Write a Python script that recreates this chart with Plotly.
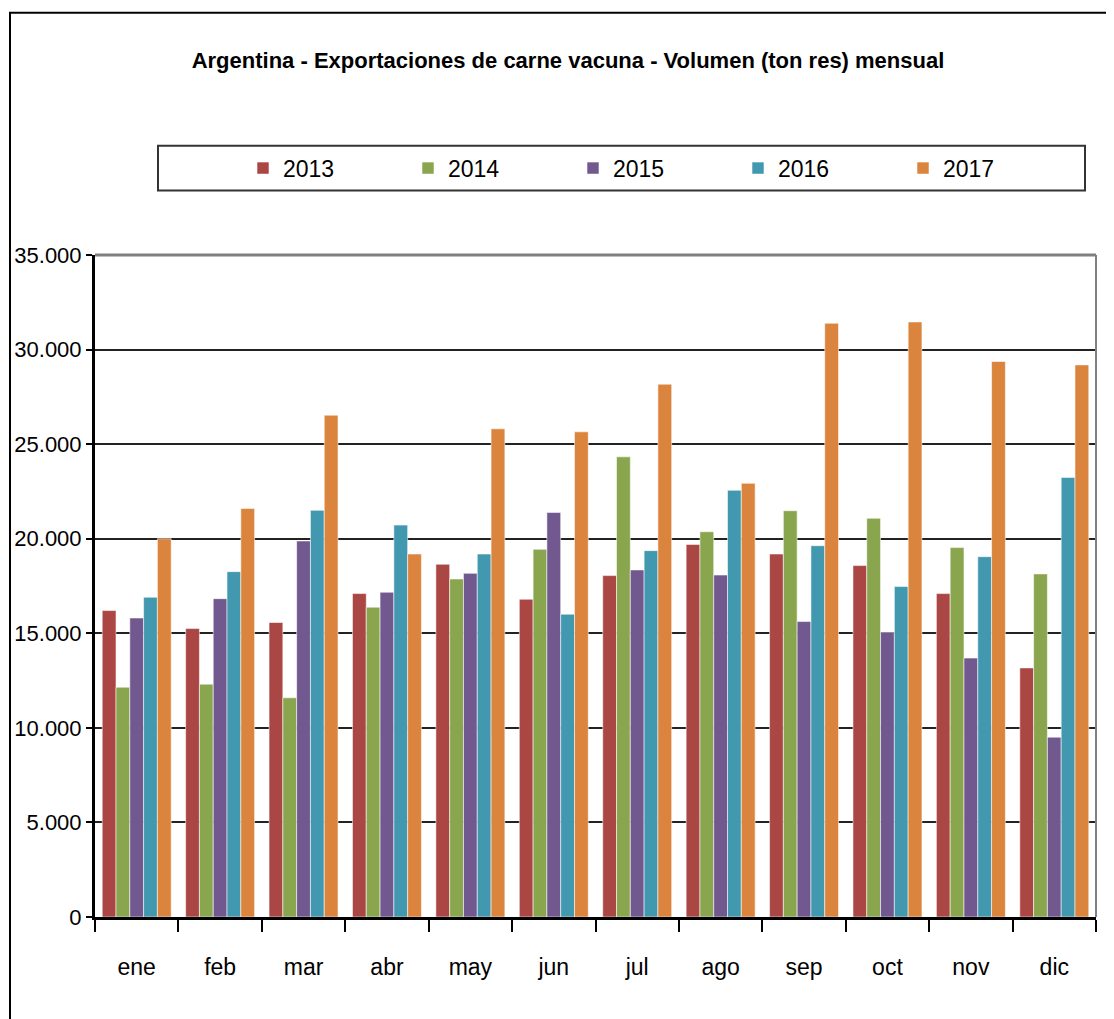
import plotly.graph_objects as go

months = ["ene", "feb", "mar", "abr", "may", "jun", "jul", "ago", "sep", "oct", "nov", "dic"]
years = ["2013", "2014", "2015", "2016", "2017"]
v2013 = [16200, 15250, 15570, 17100, 18650, 16800, 18050, 19700, 19190, 18580, 17100, 13170]
v2014 = [12150, 12310, 11590, 16380, 17870, 19440, 24330, 20370, 21480, 21080, 19530, 18140]
v2015 = [15810, 16830, 19880, 17170, 18170, 21390, 18350, 18080, 15620, 15060, 13690, 9510]
v2016 = [16905, 18260, 21500, 20720, 19190, 16010, 19370, 22560, 19630, 17470, 19050, 23240]
v2017 = [20000, 21600, 26530, 19190, 25810, 25650, 28170, 22930, 31390, 31460, 29370, 29190]
series = [v2013, v2014, v2015, v2016, v2017]
colors = ["#AA4643", "#89A54E", "#71588F", "#4198AF", "#DB843D"]
yticks = [0, 5000, 10000, 15000, 20000, 25000, 30000, 35000]

# page offset (body margin) compensation
O = 8
W, H = 1114 - O, 1019 - O
L, R, T, B = 95 - O, 1096 - O, 254.5 - O, 917.5 - O
FONT = "Liberation Sans, Arial, sans-serif"
FS = 23

def px(x):
    return (x - O - L) / (R - L)

def py(y):
    return (B - (y - O)) / (B - T)

fig = go.Figure()
for name, vals, col in zip(years, series, colors):
    fig.add_trace(go.Bar(
        x=months, y=vals, name=name,
        marker=dict(color=col, line=dict(color="rgba(255,255,255,0.55)", width=1)),
    ))

fig.update_layout(
    width=W, height=H,
    margin=dict(l=L, r=W - R, t=T, b=H - B, autoexpand=False),
    paper_bgcolor="white", plot_bgcolor="white",
    barmode="group", bargap=0.173, bargroupgap=0,
    separators=",.",
    font=dict(family=FONT, size=FS, color="black"),
    title=dict(
        text="<b>Argentina - Exportaciones de carne vacuna - Volumen (ton res) mensual</b>",
        font=dict(family=FONT, size=22, color="black"),
        x=(568 - O) / W, xanchor="center", xref="container",
        y=1 - (60 - O) / H, yanchor="middle", yref="container",
    ),
    legend=dict(
        orientation="h", x=px(243), y=py(167.5), xanchor="left", yanchor="middle",
        entrywidth=120, entrywidthmode="pixels",
        font=dict(family=FONT, size=FS, color="black"),
        bgcolor="rgba(0,0,0,0)", itemclick=False, traceorder="normal",
    ),
    showlegend=True,
)

fig.update_yaxes(
    range=[0, 35000], tickvals=yticks, tickformat=",.0f",
    showgrid=True, gridcolor="#222222", gridwidth=2,
    showline=True, linecolor="black", linewidth=3,
    ticks="outside", ticklen=6, tickcolor="black", tickwidth=2,
    zeroline=False, tickfont=dict(family=FONT, size=22, color="black"),
    fixedrange=True,
)
fig.update_xaxes(
    categoryorder="array", categoryarray=months,
    showline=True, linecolor="black", linewidth=3,
    ticks="outside", ticklen=12, tickcolor="black", tickwidth=2,
    tickson="boundaries", showgrid=False, ticklabelstandoff=27,
    tickfont=dict(family=FONT, size=FS, color="black"),
    fixedrange=True,
)

shapes = [
    # outer chart border
    dict(type="rect", xref="paper", yref="paper",
         x0=px(10), x1=px(1120), y0=py(1025), y1=py(12),
         line=dict(color="black", width=2), fillcolor="rgba(0,0,0,0)", layer="below"),
    # legend box
    dict(type="rect", xref="paper", yref="paper",
         x0=px(158), x1=px(1085), y0=py(190), y1=py(145),
         line=dict(color="#333333", width=2), fillcolor="rgba(0,0,0,0)"),
    # plot area top / right border (gray)
    dict(type="line", xref="paper", yref="paper", x0=0, x1=1, y0=1, y1=1,
         line=dict(color="#808080", width=3)),
    dict(type="line", xref="paper", yref="paper", x0=1, x1=1, y0=0, y1=1,
         line=dict(color="#808080", width=2)),
]
fig.update_layout(shapes=shapes)

fig.write_html("out.html")
